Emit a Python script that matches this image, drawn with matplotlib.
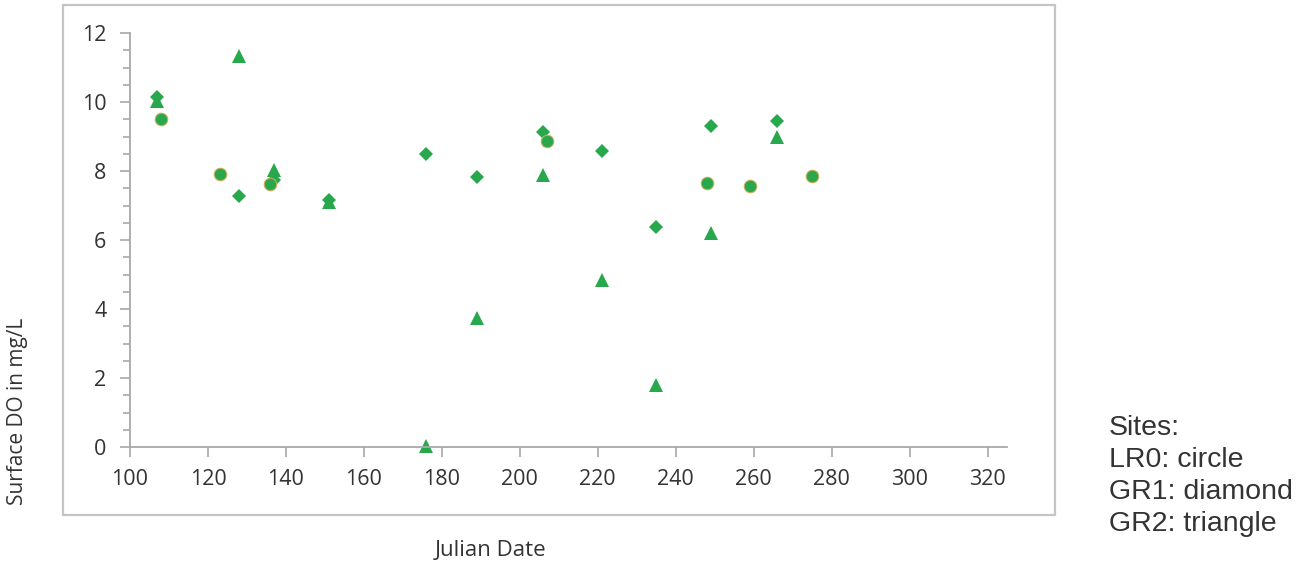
import matplotlib
matplotlib.use('Agg')
import matplotlib.pyplot as plt
from matplotlib.patches import Rectangle
from matplotlib.ticker import MultipleLocator

# Julian date / surface DO (mg/L) per site
lr0_day = [108, 123, 136, 207, 248, 259, 275]
lr0_do = [9.52, 7.90, 7.62, 8.87, 7.66, 7.57, 7.85]

gr1_day = [107, 128, 137, 151, 176, 189, 206, 221, 235, 249, 266]
gr1_do = [10.14, 7.27, 7.75, 7.17, 8.50, 7.84, 9.14, 8.58, 6.38, 9.30, 9.44]

gr2_day = [107, 128, 137, 151, 176, 189, 206, 221, 235, 249, 266]
gr2_do = [10.02, 11.32, 8.02, 7.10, 0.04, 3.74, 7.88, 4.84, 1.80, 6.19, 8.98]

x_ticks = [100, 120, 140, 160, 180, 200, 220, 240, 260, 280, 300, 320]
y_ticks = [0, 2, 4, 6, 8, 10, 12]

W, H = 1310, 564
green = '#27a84c'
axis_gray = '#a8a8a8'
text_col = '#333333'

fig = plt.figure(figsize=(W / 100, H / 100), dpi=100)

# outer chart border
fig.patches.append(Rectangle((63 / W, 1 - 515 / H), (1055 - 63) / W, (515 - 5) / H,
                             transform=fig.transFigure, fill=False,
                             edgecolor='#c4c4c4', linewidth=1.6))

ax = fig.add_axes([130 / W, 1 - 447 / H, (1007 - 130) / W, (447 - 33) / H])
ax.set_xlim(100, 325)
ax.set_ylim(0, 12)
ax.set_facecolor('none')

ax.plot(gr1_day, gr1_do, linestyle='none', marker='D', markersize=7.5,
        color=green, markeredgewidth=0, clip_on=False)
ax.plot(gr2_day, gr2_do, linestyle='none', marker='^', markersize=10,
        color=green, markeredgewidth=0, clip_on=False)
ax.plot(lr0_day, lr0_do, linestyle='none', marker='o', markersize=9,
        color=green, markeredgecolor='#c9ad58', markeredgewidth=0.8, clip_on=False)

for s in ['top', 'right']:
    ax.spines[s].set_visible(False)
for s in ['left', 'bottom']:
    ax.spines[s].set_color(axis_gray)
    ax.spines[s].set_linewidth(1.3)

ax.set_xticks(x_ticks)
ax.set_yticks(y_ticks)
ax.yaxis.set_minor_locator(MultipleLocator(0.5))
ax.tick_params(axis='both', which='major', direction='out', length=7,
               width=1.2, color=axis_gray, labelcolor=text_col, labelsize=15.5)
ax.tick_params(axis='y', which='minor', direction='out', length=5,
               width=1.2, color=axis_gray)
ax.tick_params(axis='y', which='major', pad=10)
ax.tick_params(axis='x', which='major', pad=9)
for lab in ax.get_xticklabels() + ax.get_yticklabels():
    lab.set_fontfamily('Open Sans')

fig.text(18 / W, 1 - 411 / H, 'Surface DO in mg/L', rotation=90, ha='center', va='center',
         fontsize=15, color=text_col, family='Open Sans')
fig.text(491 / W, 1 - 550 / H, 'Julian Date', ha='center', va='center',
         fontsize=16, color=text_col, family='Open Sans')

fig.text(1109 / W, 1 - 415 / H, 'Sites:\nLR0: circle\nGR1: diamond\nGR2: triangle',
         ha='left', va='top', fontsize=20.5, color='#333333',
         family='Liberation Sans', linespacing=1.3)

fig.savefig('out.png', dpi=100)
